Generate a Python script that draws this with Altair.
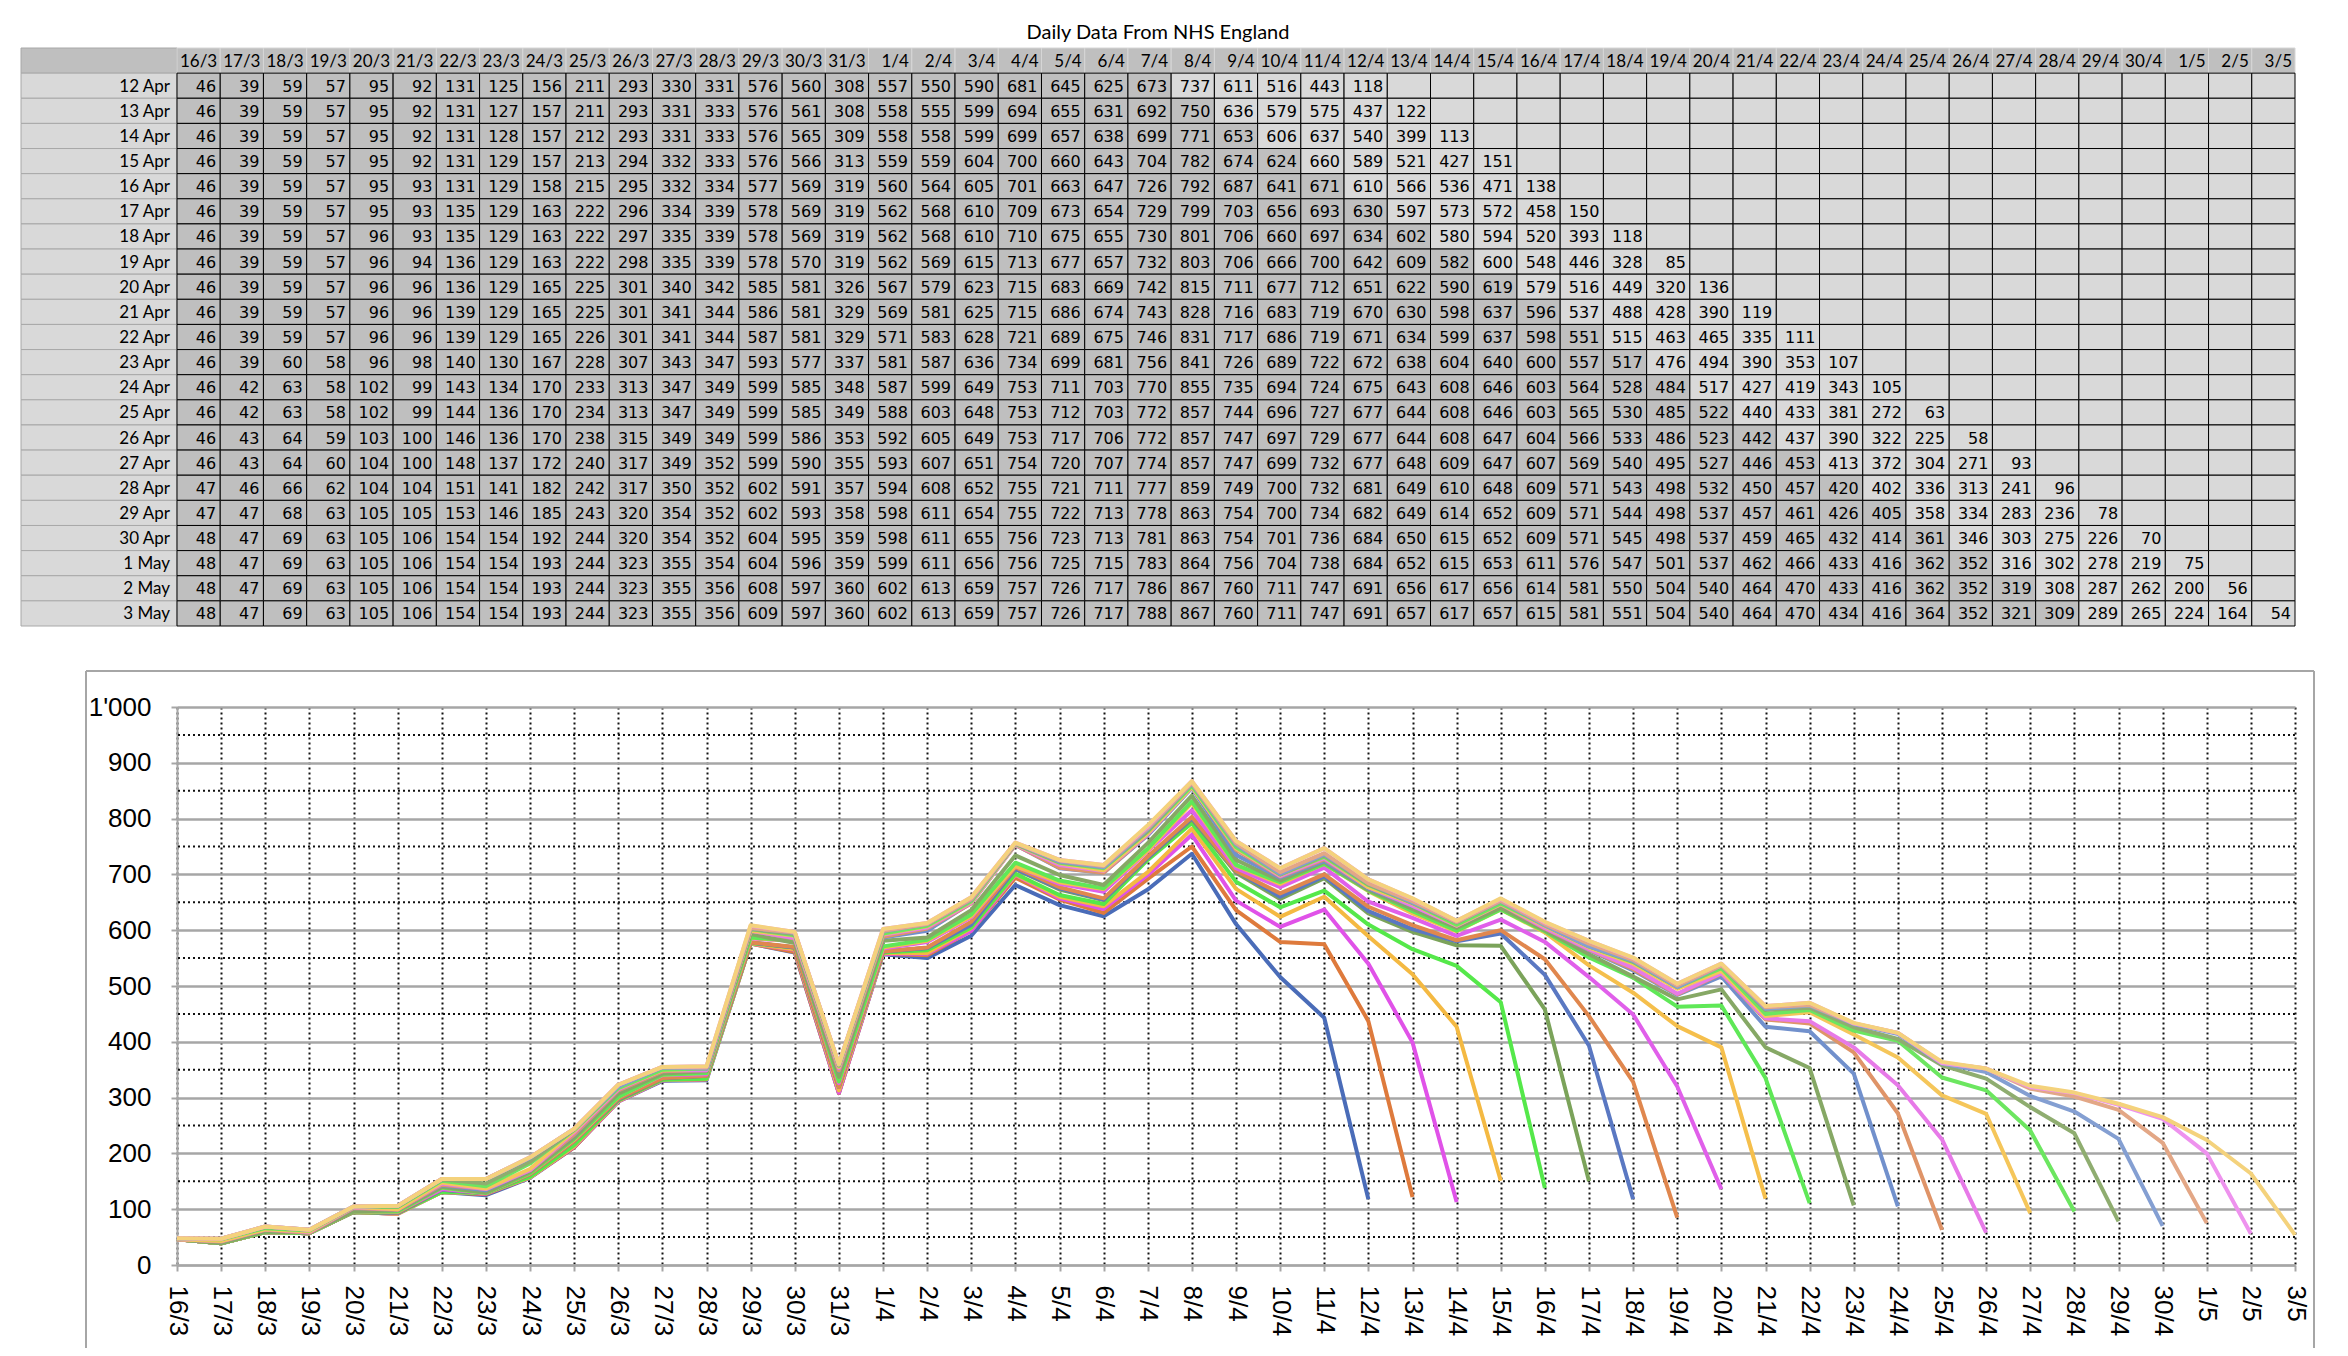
import altair as alt
import pandas as pd

# ---------------- data ----------------
dates = ["16/3", "17/3", "18/3", "19/3", "20/3", "21/3", "22/3", "23/3", "24/3", "25/3",
         "26/3", "27/3", "28/3", "29/3", "30/3", "31/3", "1/4", "2/4", "3/4", "4/4",
         "5/4", "6/4", "7/4", "8/4", "9/4", "10/4", "11/4", "12/4", "13/4", "14/4",
         "15/4", "16/4", "17/4", "18/4", "19/4", "20/4", "21/4", "22/4", "23/4", "24/4",
         "25/4", "26/4", "27/4", "28/4", "29/4", "30/4", "1/5", "2/5", "3/5"]

row_labels = ["12 Apr", "13 Apr", "14 Apr", "15 Apr", "16 Apr", "17 Apr", "18 Apr",
              "19 Apr", "20 Apr", "21 Apr", "22 Apr", "23 Apr", "24 Apr", "25 Apr",
              "26 Apr", "27 Apr", "28 Apr", "29 Apr", "30 Apr", "1 May", "2 May", "3 May"]

apr12 = [46,39,59,57,95,92,131,125,156,211,293,330,331,576,560,308,557,550,590,681,645,625,673,737,611,516,443,118]
apr13 = [46,39,59,57,95,92,131,127,157,211,293,331,333,576,561,308,558,555,599,694,655,631,692,750,636,579,575,437,122]
apr14 = [46,39,59,57,95,92,131,128,157,212,293,331,333,576,565,309,558,558,599,699,657,638,699,771,653,606,637,540,399,113]
apr15 = [46,39,59,57,95,92,131,129,157,213,294,332,333,576,566,313,559,559,604,700,660,643,704,782,674,624,660,589,521,427,151]
apr16 = [46,39,59,57,95,93,131,129,158,215,295,332,334,577,569,319,560,564,605,701,663,647,726,792,687,641,671,610,566,536,471,138]
apr17 = [46,39,59,57,95,93,135,129,163,222,296,334,339,578,569,319,562,568,610,709,673,654,729,799,703,656,693,630,597,573,572,458,150]
apr18 = [46,39,59,57,96,93,135,129,163,222,297,335,339,578,569,319,562,568,610,710,675,655,730,801,706,660,697,634,602,580,594,520,393,118]
apr19 = [46,39,59,57,96,94,136,129,163,222,298,335,339,578,570,319,562,569,615,713,677,657,732,803,706,666,700,642,609,582,600,548,446,328,85]
apr20 = [46,39,59,57,96,96,136,129,165,225,301,340,342,585,581,326,567,579,623,715,683,669,742,815,711,677,712,651,622,590,619,579,516,449,320,136]
apr21 = [46,39,59,57,96,96,139,129,165,225,301,341,344,586,581,329,569,581,625,715,686,674,743,828,716,683,719,670,630,598,637,596,537,488,428,390,119]
apr22 = [46,39,59,57,96,96,139,129,165,226,301,341,344,587,581,329,571,583,628,721,689,675,746,831,717,686,719,671,634,599,637,598,551,515,463,465,335,111]
apr23 = [46,39,60,58,96,98,140,130,167,228,307,343,347,593,577,337,581,587,636,734,699,681,756,841,726,689,722,672,638,604,640,600,557,517,476,494,390,353,107]
apr24 = [46,42,63,58,102,99,143,134,170,233,313,347,349,599,585,348,587,599,649,753,711,703,770,855,735,694,724,675,643,608,646,603,564,528,484,517,427,419,343,105]
apr25 = [46,42,63,58,102,99,144,136,170,234,313,347,349,599,585,349,588,603,648,753,712,703,772,857,744,696,727,677,644,608,646,603,565,530,485,522,440,433,381,272,63]
apr26 = [46,43,64,59,103,100,146,136,170,238,315,349,349,599,586,353,592,605,649,753,717,706,772,857,747,697,729,677,644,608,647,604,566,533,486,523,442,437,390,322,225,58]
apr27 = [46,43,64,60,104,100,148,137,172,240,317,349,352,599,590,355,593,607,651,754,720,707,774,857,747,699,732,677,648,609,647,607,569,540,495,527,446,453,413,372,304,271,93]
apr28 = [47,46,66,62,104,104,151,141,182,242,317,350,352,602,591,357,594,608,652,755,721,711,777,859,749,700,732,681,649,610,648,609,571,543,498,532,450,457,420,402,336,313,241,96]
apr29 = [47,47,68,63,105,105,153,146,185,243,320,354,352,602,593,358,598,611,654,755,722,713,778,863,754,700,734,682,649,614,652,609,571,544,498,537,457,461,426,405,358,334,283,236,78]
apr30 = [48,47,69,63,105,106,154,154,192,244,320,354,352,604,595,359,598,611,655,756,723,713,781,863,754,701,736,684,650,615,652,609,571,545,498,537,459,465,432,414,361,346,303,275,226,70]
may1 = [48,47,69,63,105,106,154,154,193,244,323,355,354,604,596,359,599,611,656,756,725,715,783,864,756,704,738,684,652,615,653,611,576,547,501,537,462,466,433,416,362,352,316,302,278,219,75]
may2 = [48,47,69,63,105,106,154,154,193,244,323,355,356,608,597,360,602,613,659,757,726,717,786,867,760,711,747,691,656,617,656,614,581,550,504,540,464,470,433,416,362,352,319,308,287,262,200,56]
may3 = [48,47,69,63,105,106,154,154,193,244,323,355,356,609,597,360,602,613,659,757,726,717,788,867,760,711,747,691,657,617,657,615,581,551,504,540,464,470,434,416,364,352,321,309,289,265,224,164,54]

series = [apr12, apr13, apr14, apr15, apr16, apr17, apr18, apr19, apr20, apr21, apr22,
          apr23, apr24, apr25, apr26, apr27, apr28, apr29, apr30, may1, may2, may3]

line_colors = ["#4a6cb8", "#de7a3c", "#e052e8", "#f4b942", "#55e84a", "#7ba35a",
               "#5a78c2", "#e0874e", "#e05fea", "#f5bf4c", "#5fe857", "#86a865",
               "#7190cc", "#df9468", "#e77ae8", "#f5c65a", "#6ce660", "#8fad70",
               "#849fd2", "#e3a786", "#ee92ee", "#f4d27c"]

y_major = [0, 100, 200, 300, 400, 500, 600, 700, 800, 900, 1000]
y_minor = [50, 150, 250, 350, 450, 550, 650, 750, 850, 950]

title_text = "Daily Data From NHS England"

for vals, k in zip(series, range(28, 50)):
    assert len(vals) == k, (k, len(vals))

# ---------------- tables for the library ----------------
cell_rows = []
line_rows = []
for lab, vals in zip(row_labels, series):
    n = len(vals)
    for j, d in enumerate(dates):
        cell_rows.append({"row": lab, "col": d,
                          "text": str(vals[j]) if j < n else "",
                          "shade": "g" if j >= n - 5 else "w"})
        if j < n:
            line_rows.append({"series": lab, "date": d, "k": j, "v": vals[j]})
cells = pd.DataFrame(cell_rows)
lines = pd.DataFrame(line_rows)
header = pd.DataFrame({"row": ["hdr"] * len(dates), "col": dates, "text": dates})
labels = pd.DataFrame({"row": ["hdr"] + row_labels,
                       "text": [""] + row_labels,
                       "kind": ["h"] + ["l"] * len(row_labels)})

ROW_DOMAIN = ["hdr"] + row_labels
TW = 2118
TH = 578

xs = alt.Scale(domain=dates, paddingInner=0, paddingOuter=0)
ys = alt.Scale(domain=ROW_DOMAIN, paddingInner=0, paddingOuter=0)

hdr_rect = alt.Chart(header).mark_rect(fill="#bfbfbf", stroke="#d6d6d6", strokeWidth=1).encode(
    x=alt.X("col:N", scale=xs, axis=None, sort=dates),
    y=alt.Y("row:N", scale=ys, axis=None, sort=ROW_DOMAIN),
)
cell_rect = alt.Chart(cells).mark_rect(stroke="black", strokeWidth=1).encode(
    x=alt.X("col:N", scale=xs, axis=None, sort=dates),
    y=alt.Y("row:N", scale=ys, axis=None, sort=ROW_DOMAIN),
    fill=alt.Fill("shade:N", scale=alt.Scale(domain=["w", "g"], range=["white", "#d9d9d9"]), legend=None),
)
hdr_text = alt.Chart(header).mark_text(align="right", baseline="middle", dx=-3, dy=1,
                                       font="Lato", fontSize=17, color="black").encode(
    x=alt.X("col:N", scale=xs, axis=None, sort=dates, bandPosition=1),
    y=alt.Y("row:N", scale=ys, axis=None, sort=ROW_DOMAIN, bandPosition=0.5),
    text="text:N",
)
cell_text = alt.Chart(cells).mark_text(align="right", baseline="middle", dx=-4, dy=1,
                                       font="DejaVu Sans", fontSize=16, color="black").encode(
    x=alt.X("col:N", scale=xs, axis=None, sort=dates, bandPosition=1),
    y=alt.Y("row:N", scale=ys, axis=None, sort=ROW_DOMAIN, bandPosition=0.5),
    text="text:N",
)
lab_rect = alt.Chart(labels).mark_rect(stroke="#a8a8a8", strokeWidth=1).encode(
    x=alt.value(-156), x2=alt.value(0),
    y=alt.Y("row:N", scale=ys, axis=None, sort=ROW_DOMAIN),
    fill=alt.Fill("kind:N", scale=alt.Scale(domain=["h", "l"], range=["#bfbfbf", "#d9d9d9"]), legend=None),
)
lab_text = alt.Chart(labels).mark_text(align="right", baseline="middle", dx=0, dy=1,
                                       font="Lato", fontSize=17, color="black").encode(
    x=alt.value(-7),
    y=alt.Y("row:N", scale=ys, axis=None, sort=ROW_DOMAIN, bandPosition=0.5),
    text="text:N",
)

table = alt.layer(lab_rect, hdr_rect, cell_rect, lab_text, hdr_text, cell_text).properties(
    width=TW, height=TH,
    title=alt.TitleParams(title_text, font="Lato", fontSize=20, fontWeight="normal",
                          color="black", anchor="middle", dx=-78, offset=5),
)

# ---------------- line chart ----------------
PH = 558
x_line = alt.X("date:N", sort=dates,
               scale=alt.Scale(type="point", domain=dates, padding=0),
               axis=alt.Axis(title=None, labelAngle=90, labelFont="Liberation Sans",
                             labelFontSize=26, labelColor="black", labelPadding=14,
                             tickSize=6, tickColor="#a6a6a6", tickWidth=2,
                             domainColor="#a6a6a6", domainWidth=2,
                             grid=True, gridColor="#111111", gridDash=[2, 3], gridWidth=2))
y_scale = alt.Scale(domain=[0, 1000], nice=False, zero=True)
y_axis = alt.Axis(title=None, values=y_major, labelFont="Liberation Sans",
                  labelFontSize=26, labelColor="black", labelPadding=20,
                  tickSize=6, tickColor="#a6a6a6", tickWidth=2,
                  domainColor="#a6a6a6", domainWidth=2,
                  grid=True, gridColor="#a6a6a6", gridWidth=2.5,
                  labelExpr="datum.value == 1000 ? \"1'000\" : datum.label")

minor = alt.Chart(pd.DataFrame({"v": y_minor})).mark_rule(
    color="#111111", strokeDash=[2, 3], strokeWidth=2).encode(
    y=alt.Y("v:Q", scale=y_scale, axis=y_axis))

line = alt.Chart(lines).mark_line(strokeWidth=4, strokeJoin="round").encode(
    x=x_line,
    y=alt.Y("v:Q", scale=y_scale, axis=y_axis),
    color=alt.Color("series:N", scale=alt.Scale(domain=row_labels, range=line_colors), legend=None),
    order=alt.Order("k:Q"),
)

one = alt.Data(values=[{"a": 1}])
frame_top = alt.Chart(one).mark_rule(color="#a6a6a6", strokeWidth=2).encode(
    x=alt.value(-91), x2=alt.value(2137), y=alt.value(-36))
frame_left = alt.Chart(one).mark_rule(color="#a6a6a6", strokeWidth=2).encode(
    x=alt.value(-91), y=alt.value(-36), y2=alt.value(641))
frame_right = alt.Chart(one).mark_rule(color="#a6a6a6", strokeWidth=2).encode(
    x=alt.value(2137), y=alt.value(-36), y2=alt.value(641))

plot = alt.layer(minor, line, frame_top, frame_left, frame_right).properties(width=TW, height=PH)

chart = alt.vconcat(table, plot, spacing=81, bounds="flush").properties(
    padding={"left": 12, "top": 14, "right": 5, "bottom": 0},
    background="white",
).configure_view(strokeWidth=0)

chart.save("out.html", embed_options={"renderer": "svg", "actions": False})
